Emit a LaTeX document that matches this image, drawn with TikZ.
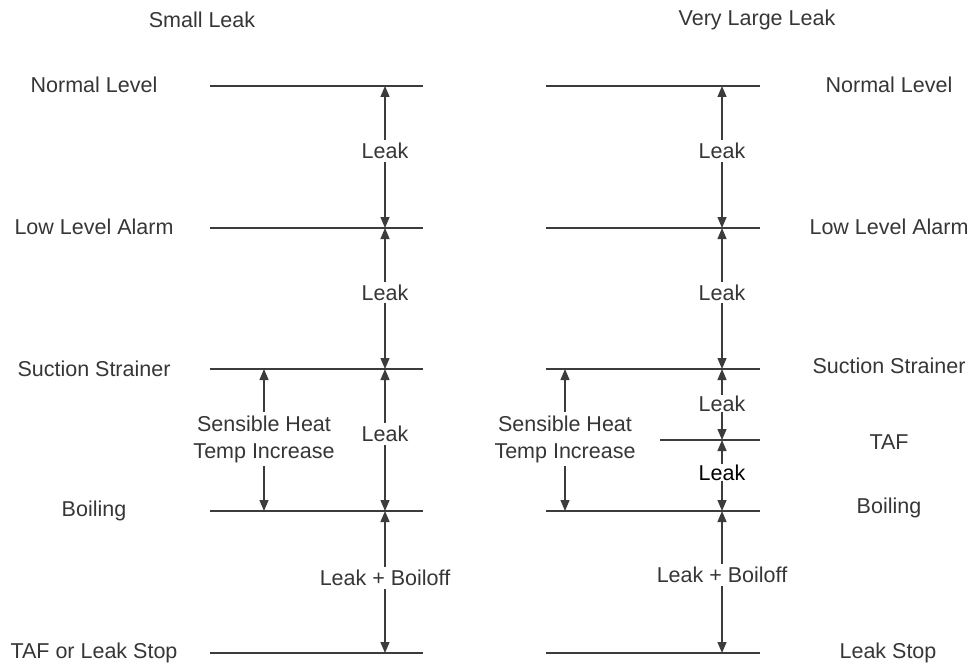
\documentclass[tikz,border=0pt]{standalone}
\usepackage{fontspec}
\setmainfont{Liberation Sans}
\usetikzlibrary{arrows.meta}
\definecolor{ink}{HTML}{363636}
\definecolor{lin}{HTML}{3C3C3C}
\tikzset{
  lvl/.style={draw=lin, line width=1.3pt},
  dim/.style={draw=lin, line width=1.3pt, {Triangle[length=11pt,width=9pt]}-{Triangle[length=11pt,width=9pt]}},
  lab/.style={text=ink, font=\fontsize{21.5}{27}\selectfont, inner sep=0pt},
  mid/.style={text=ink, font=\fontsize{21.5}{27}\selectfont, fill=white, inner sep=3pt, align=center},
}
\begin{document}
\begin{tikzpicture}[x=1pt,y=-1pt]
\useasboundingbox (0,0) rectangle (971,666);
% titles
\node[lab] (t1) at (202,20) {Small Leak};
\node[lab] (t2) at (757,20) {Very Large Leak};
% left labels
\node[lab] (l1) at (94,85) {Normal Level};
\node[lab] (l2) at (94,227) {Low Level Alarm};
\node[lab] (l3) at (94,369) {Suction Strainer};
\node[lab] (l4) at (94,511) {Boiling};
\node[lab] (l5) at (94,653) {TAF or Leak Stop};
% right labels
\node[lab] (r1) at (889,85) {Normal Level};
\node[lab] (r2) at (889,227) {Low Level Alarm};
\node[lab] (r3) at (889,366) {Suction Strainer};
\node[lab] (r4) at (889,442) {TAF};
\node[lab] (r5) at (889,508) {Boiling};
\node[lab] (r6) at (888,653) {Leak Stop};
% left level lines
\foreach \i/\y in {1/86,2/228,3/369,4/511,5/653}{
  \coordinate (la\i) at (210,\y);
  \coordinate (lb\i) at (423,\y);
  \coordinate (lk\i) at (385,\y);
  \draw[lvl] (la\i) -- (lb\i);
}
% right level lines
\foreach \i/\y in {1/86,2/228,3/369,5/511,6/653}{
  \coordinate (ra\i) at (546,\y);
  \coordinate (rb\i) at (760,\y);
  \coordinate (rk\i) at (722,\y);
  \draw[lvl] (ra\i) -- (rb\i);
}
\coordinate (ra4) at (660,440);
\coordinate (rb4) at (760,440);
\coordinate (rk4) at (722,440);
\draw[lvl] (ra4) -- (rb4);
% sensible heat points
\coordinate (ls3) at (264,369);
\coordinate (ls4) at (264,511);
\coordinate (rs3) at (565,369);
\coordinate (rs5) at (565,511);
% left arrows
\draw[dim] (lk1) -- node[mid, yshift=6pt] (m1) {Leak} (lk2);
\draw[dim] (lk2) -- node[mid, yshift=6pt] (m2) {Leak} (lk3);
\draw[dim] (lk3) -- node[mid, yshift=6pt] (m3) {Leak} (lk4);
\draw[dim] (lk4) -- node[mid, pos=0.47] (m4) {Leak + Boiloff} (lk5);
\draw[dim] (ls3) -- node[mid, yshift=1pt] (m5) {Sensible Heat\\Temp Increase} (ls4);
% right arrows
\draw[dim] (rk1) -- node[mid, yshift=6pt] (n1) {Leak} (rk2);
\draw[dim] (rk2) -- node[mid, yshift=6pt] (n2) {Leak} (rk3);
\draw[dim] (rk3) -- node[mid, inner sep=1pt, yshift=1pt] (n3) {Leak} (rk4);
\draw[dim] (rk4) -- node[mid, inner sep=1pt, yshift=3pt, text=black] (n4) {Leak} (rk5);
\draw[dim] (rk5) -- node[mid, pos=0.45] (n5) {Leak + Boiloff} (rk6);
\draw[dim] (rs3) -- node[mid, yshift=1pt] (n6) {Sensible Heat\\Temp Increase} (rs5);
\end{tikzpicture}
\end{document}
